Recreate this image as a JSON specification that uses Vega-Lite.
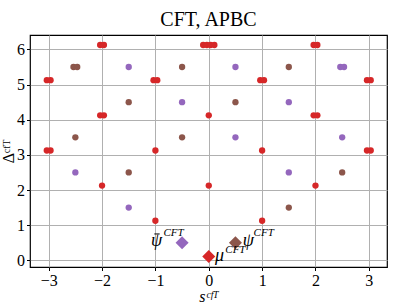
{
  "$schema": "https://vega.github.io/schema/vega-lite/v6.json",
  "autosize": {"type": "none"},
  "padding": {"left": 30, "top": 35, "right": 20, "bottom": 38},
  "width": 357,
  "height": 232,
  "title": {"text": "CFT, APBC", "fontSize": 20, "font": "Liberation Serif", "fontWeight": "normal", "color": "#000000", "offset": 5},
  "config": {
    "view": {"stroke": "#000000", "strokeWidth": 1.2},
    "axis": {
      "domain": false,
      "grid": true,
      "gridColor": "#b0b0b0",
      "gridWidth": 1,
      "tickColor": "#000000",
      "tickSize": 3.5,
      "labelFont": "Liberation Serif",
      "labelFontSize": 16,
      "labelColor": "#000000",
      "labelPadding": 2,
      "labelOverlap": false,
      "titleFont": "Liberation Serif",
      "titleFontSize": 16,
      "titleFontWeight": "normal",
      "titleColor": "#000000"
    }
  },
  "datasets": {
    "pts": [
      {"s": -1, "d": 1.125, "t": "mu"}, {"s": 1, "d": 1.125, "t": "mu"},
      {"s": -2, "d": 2.125, "t": "mu"}, {"s": 0, "d": 2.125, "t": "mu"}, {"s": 2, "d": 2.125, "t": "mu"},
      {"s": -3.035, "d": 3.125, "t": "mu"}, {"s": -2.965, "d": 3.125, "t": "mu"}, {"s": -1, "d": 3.125, "t": "mu"}, {"s": 1, "d": 3.125, "t": "mu"}, {"s": 2.965, "d": 3.125, "t": "mu"}, {"s": 3.035, "d": 3.125, "t": "mu"},
      {"s": -2.035, "d": 4.125, "t": "mu"}, {"s": -1.965, "d": 4.125, "t": "mu"}, {"s": 0, "d": 4.125, "t": "mu"}, {"s": 1.965, "d": 4.125, "t": "mu"}, {"s": 2.035, "d": 4.125, "t": "mu"},
      {"s": -3.035, "d": 5.125, "t": "mu"}, {"s": -2.965, "d": 5.125, "t": "mu"}, {"s": -1.035, "d": 5.125, "t": "mu"}, {"s": -0.965, "d": 5.125, "t": "mu"}, {"s": 0.965, "d": 5.125, "t": "mu"}, {"s": 1.035, "d": 5.125, "t": "mu"}, {"s": 2.965, "d": 5.125, "t": "mu"}, {"s": 3.035, "d": 5.125, "t": "mu"},
      {"s": -2.035, "d": 6.125, "t": "mu"}, {"s": -1.965, "d": 6.125, "t": "mu"}, {"s": -0.105, "d": 6.125, "t": "mu"}, {"s": -0.035, "d": 6.125, "t": "mu"}, {"s": 0.035, "d": 6.125, "t": "mu"}, {"s": 0.105, "d": 6.125, "t": "mu"}, {"s": 1.965, "d": 6.125, "t": "mu"}, {"s": 2.035, "d": 6.125, "t": "mu"},
      {"s": 1.5, "d": 1.5, "t": "psi"}, {"s": -1.5, "d": 2.5, "t": "psi"}, {"s": 2.5, "d": 2.5, "t": "psi"}, {"s": -2.5, "d": 3.5, "t": "psi"}, {"s": -0.5, "d": 3.5, "t": "psi"}, {"s": -1.5, "d": 4.5, "t": "psi"}, {"s": 0.5, "d": 4.5, "t": "psi"}, {"s": -2.535, "d": 5.5, "t": "psi"}, {"s": -2.465, "d": 5.5, "t": "psi"}, {"s": -0.5, "d": 5.5, "t": "psi"}, {"s": 1.5, "d": 5.5, "t": "psi"},
      {"s": -1.5, "d": 1.5, "t": "psibar"}, {"s": -2.5, "d": 2.5, "t": "psibar"}, {"s": 1.5, "d": 2.5, "t": "psibar"}, {"s": 0.5, "d": 3.5, "t": "psibar"}, {"s": 2.5, "d": 3.5, "t": "psibar"}, {"s": -0.5, "d": 4.5, "t": "psibar"}, {"s": 1.5, "d": 4.5, "t": "psibar"}, {"s": -1.5, "d": 5.5, "t": "psibar"}, {"s": 0.5, "d": 5.5, "t": "psibar"}, {"s": 2.465, "d": 5.5, "t": "psibar"}, {"s": 2.535, "d": 5.5, "t": "psibar"}
    ],
    "dia": [
      {"s": 0, "d": 0.11, "t": "mu"},
      {"s": -0.5, "d": 0.5, "t": "psibar"},
      {"s": 0.5, "d": 0.5, "t": "psi"}
    ],
    "main": [
      {"s": -0.98, "d": 0.42, "txt": "ψ"},
      {"s": 0.74, "d": 0.42, "txt": "ψ"},
      {"s": 0.2, "d": -0.02, "txt": "μ"}
    ],
    "bar": [
      {"s": -1.02, "s2": -0.92, "d": 0.75}
    ],
    "sup": [
      {"s": -0.85, "d": 0.68, "txt": "CFT"},
      {"s": 0.84, "d": 0.68, "txt": "CFT"},
      {"s": 0.31, "d": 0.21, "txt": "CFT"}
    ]
  },
  "layer": [
    {
      "data": {"name": "pts"},
      "mark": {"type": "circle", "size": 40, "opacity": 1},
      "encoding": {
        "x": {"field": "s", "type": "quantitative", "scale": {"domain": [-3.35, 3.34], "nice": false, "zero": false},
              "axis": {"values": [-3, -2, -1, 0, 1, 2, 3], "tickCount": 10, "format": "d", "title": "sᶜᶠᵀ", "titleFontStyle": "italic", "titlePadding": 0}},
        "y": {"field": "d", "type": "quantitative", "scale": {"domain": [-0.19, 6.41], "nice": false, "zero": false},
              "axis": {"values": [0, 1, 2, 3, 4, 5, 6], "tickCount": 10, "format": "d", "title": "Δᶜᶠᵀ", "titlePadding": 0}},
        "color": {"field": "t", "type": "nominal", "scale": {"domain": ["mu", "psi", "psibar"], "range": ["#d62728", "#8c564b", "#9467bd"]}, "legend": null}
      }
    },
    {
      "data": {"name": "dia"},
      "mark": {"type": "point", "shape": "diamond", "filled": true, "size": 170, "opacity": 1},
      "encoding": {
        "x": {"field": "s", "type": "quantitative"},
        "y": {"field": "d", "type": "quantitative"},
        "color": {"field": "t", "type": "nominal", "legend": null}
      }
    },
    {
      "data": {"name": "main"},
      "mark": {"type": "text", "font": "Liberation Serif", "fontSize": 18, "fontStyle": "italic", "color": "#000000", "align": "center", "baseline": "alphabetic"},
      "encoding": {
        "x": {"field": "s", "type": "quantitative"},
        "y": {"field": "d", "type": "quantitative"},
        "text": {"field": "txt"}
      }
    },
    {
      "data": {"name": "bar"},
      "mark": {"type": "rule", "color": "#000000", "strokeWidth": 1},
      "encoding": {
        "x": {"field": "s", "type": "quantitative"},
        "x2": {"field": "s2"},
        "y": {"field": "d", "type": "quantitative"}
      }
    },
    {
      "data": {"name": "sup"},
      "mark": {"type": "text", "font": "Liberation Serif", "fontSize": 11, "fontStyle": "italic", "color": "#000000", "align": "left", "baseline": "alphabetic"},
      "encoding": {
        "x": {"field": "s", "type": "quantitative"},
        "y": {"field": "d", "type": "quantitative"},
        "text": {"field": "txt"}
      }
    }
  ]
}
